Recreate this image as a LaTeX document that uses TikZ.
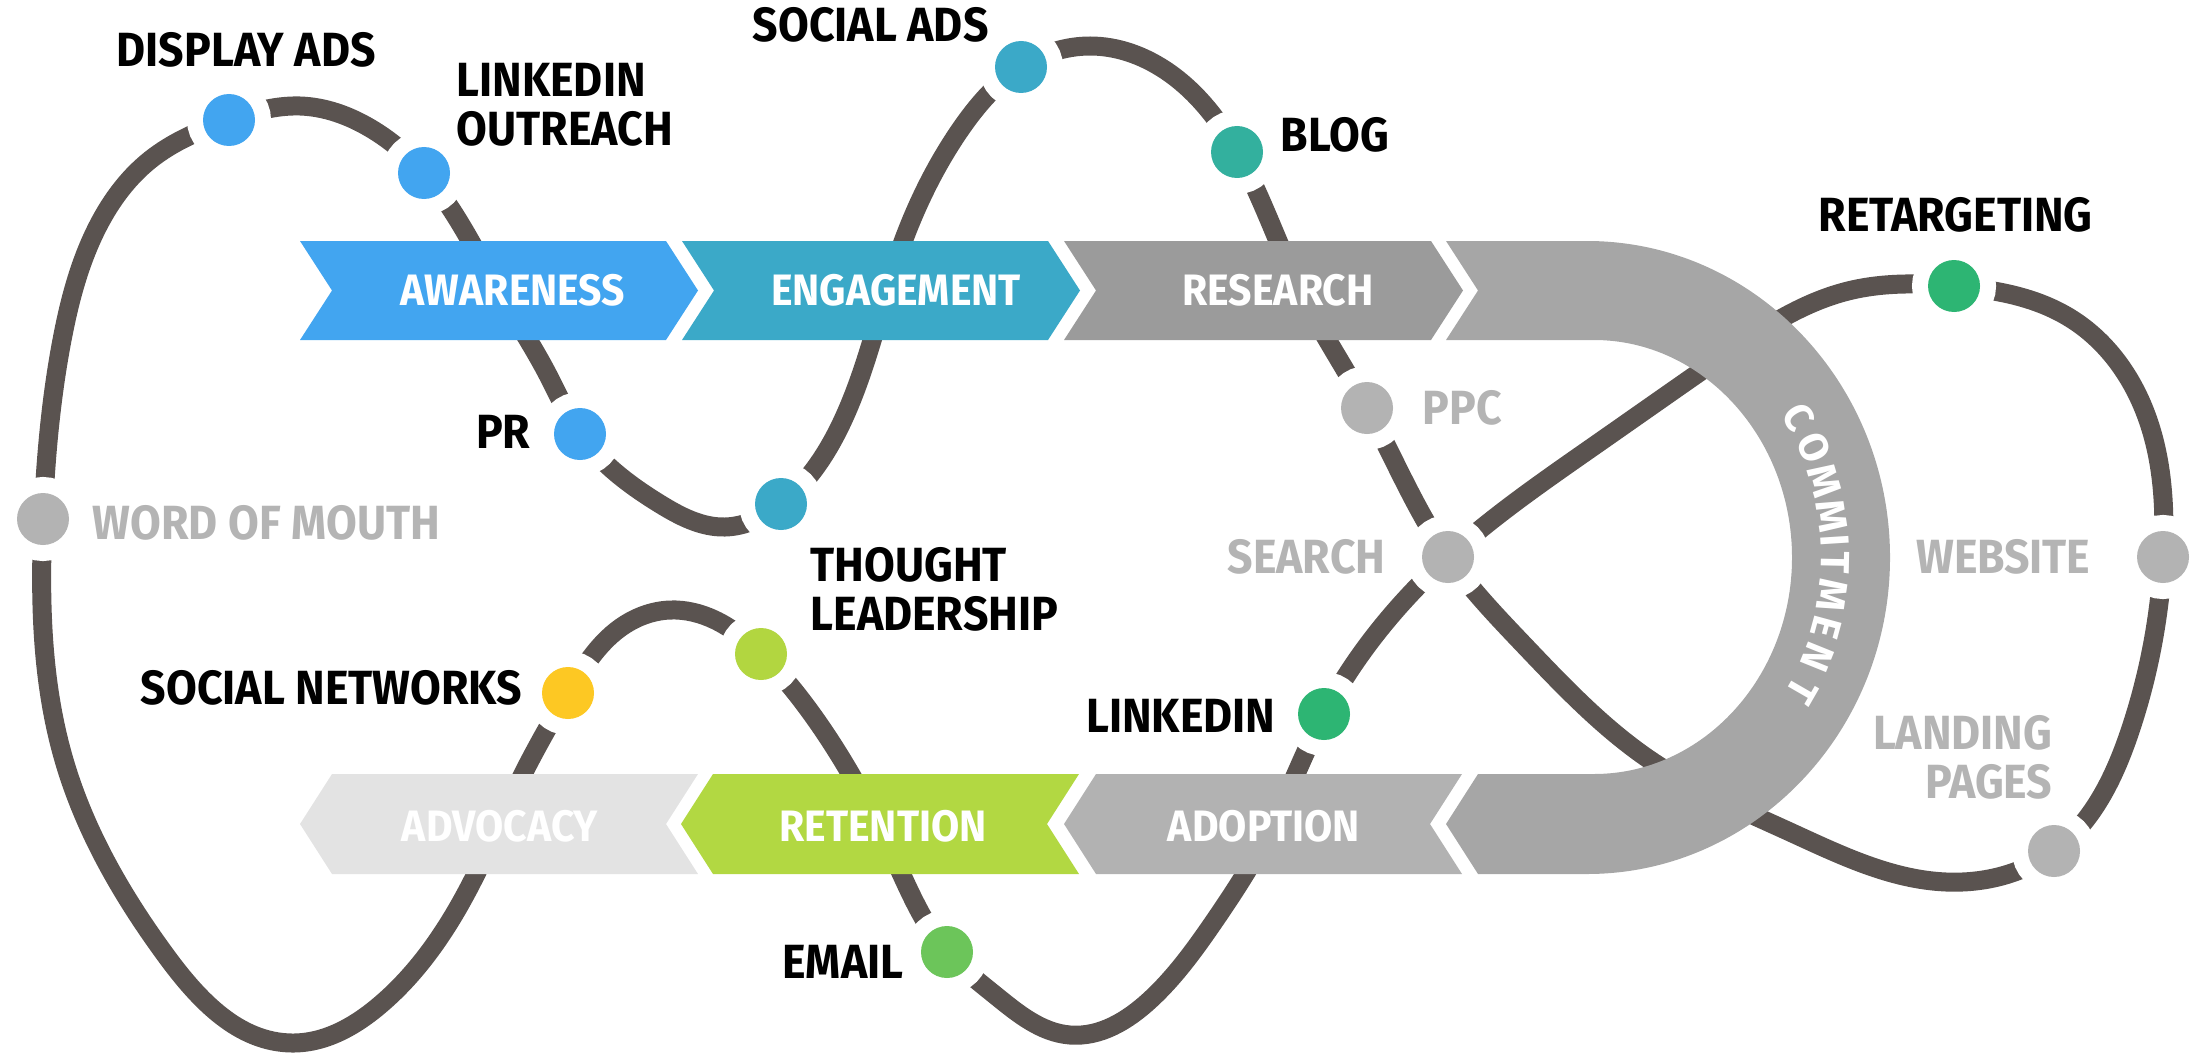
\documentclass[tikz,border=0pt]{standalone}
\usepackage{fontspec}
\setmainfont{Fira Sans}
\newfontfamily\labfont{Fira Sans}[FakeStretch=0.93]
\newfontfamily\comfont{Fira Sans}
\usetikzlibrary{hobby}
\definecolor{linec}{RGB}{90,83,80}
\definecolor{cblue}{RGB}{66,165,240}
\definecolor{cteal}{RGB}{59,169,200}
\definecolor{cresearch}{RGB}{155,155,155}
\definecolor{ccommit}{RGB}{166,166,166}
\definecolor{cadopt}{RGB}{178,178,178}
\definecolor{cretent}{RGB}{178,216,66}
\definecolor{cadvoc}{RGB}{227,227,227}
\definecolor{cblog}{RGB}{51,176,158}
\definecolor{cgreen}{RGB}{45,181,115}
\definecolor{cemail}{RGB}{108,197,90}
\definecolor{clime}{RGB}{178,214,64}
\definecolor{cyellow}{RGB}{253,200,35}
\definecolor{cgray}{RGB}{179,179,179}
\definecolor{ctextgray}{RGB}{180,180,180}
\begin{document}
\begin{tikzpicture}[x=0.3pt,y=-0.3pt,
  tdot/.style={circle, inner sep=0pt, minimum size=15.6pt, fill=#1,
    preaction={draw=white, fill=white, line width=9.6pt}},
  tlab/.style={inner sep=0pt, font=\labfont\bfseries\fontsize{14.4}{14.7}\selectfont, text=black},
  tglab/.style={tlab, text=ctextgray},
  tband/.style={inner sep=0pt, font=\labfont\bfseries\fontsize{13.2}{14}\selectfont, text=white},
  tcom/.style={inner sep=0pt, font=\comfont\bfseries\fontsize{12.2}{12}\selectfont, text=white},
  ribbon/.style={draw=linec, line width=5.7pt}]
\useasboundingbox (0,0) rectangle (2206,1055);

% positions of the touch points
\coordinate (pWOM) at (43,519);
\coordinate (pDA) at (229,120);
\coordinate (pLO) at (424,173);
\coordinate (pPR) at (580,434);
\coordinate (pENG) at (781,504);
\coordinate (pSA) at (1021,67);
\coordinate (pBL) at (1237,152);
\coordinate (pPPC) at (1367,408);
\coordinate (pSE) at (1448,557);
\coordinate (pLP) at (2054,851);
\coordinate (pWEB) at (2163,557);
\coordinate (pRT) at (1954,286);
\coordinate (pLI) at (1324,714);
\coordinate (pEM) at (947,952);
\coordinate (pTL) at (761,654);
\coordinate (pSN) at (568,693);

% the winding ribbon
\draw[ribbon] plot[closed hobby] coordinates {
  (pWOM) (62,340) (95,232) (150,160) (pDA) (300,106) (370,128) (pLO)
  (498,290) (548,375) (pPR) (660,504) (725,527) (pENG) (843,420) (900,250)
  (960,130) (pSA) (1090,46) (1165,70) (pBL) (1300,290) (pPPC) (pSE)
  (1523,644) (1650,760) (1790,832) (1946,882) (pLP) (2130,731)
  (pWEB) (2140,400) (2070,318) (pRT) (1848,291) (1720,358) (1594,446) (pSE)
  (pLI) (1270,830) (1213,923) (1150,1000) (1070,1035) (995,995) (pEM)
  (895,860) (814,717) (pTL) (715,620) (670,610) (620,628) (pSN) (520,780)
  (473,880) (380,1005) (292,1043) (167,957) (64,760)};

% touch point dots
\node[tdot=cgray] (WOM) at (pWOM) {};
\node[tdot=cblue] (DA) at (pDA) {};
\node[tdot=cblue] (LO) at (pLO) {};
\node[tdot=cblue] (PR) at (pPR) {};
\node[tdot=cteal] (ENG) at (pENG) {};
\node[tdot=cteal] (SA) at (pSA) {};
\node[tdot=cblog] (BL) at (pBL) {};
\node[tdot=cgray] (PPC) at (pPPC) {};
\node[tdot=cgray] (SE) at (pSE) {};
\node[tdot=cgray] (LP) at (pLP) {};
\node[tdot=cgray] (WEB) at (pWEB) {};
\node[tdot=cgreen] (RT) at (pRT) {};
\node[tdot=cgreen] (LI) at (pLI) {};
\node[tdot=cemail] (EM) at (pEM) {};
\node[tdot=clime] (TL) at (pTL) {};
\node[tdot=cyellow] (SN) at (pSN) {};

% stage bands, top row
\fill[cblue] (300,241) -- (666,241) -- (698,290.5) -- (666,340) -- (300,340) -- (332,290.5) -- cycle;
\fill[cteal] (682,241) -- (1048,241) -- (1080,290.5) -- (1048,340) -- (682,340) -- (714,290.5) -- cycle;
\fill[cresearch] (1064,241) -- (1431,241) -- (1463,290.5) -- (1431,340) -- (1064,340) -- (1096,290.5) -- cycle;
% commitment U-turn
\fill[ccommit] (1446,241) -- (1587,241) .. controls (1754,241) and (1890,383) .. (1890,557.5)
  .. controls (1890,732) and (1754,874) .. (1587,874) -- (1478,874) -- (1446,824) -- (1478,774)
  -- (1594,774) .. controls (1703,774) and (1792,677) .. (1792,557.5)
  .. controls (1792,438) and (1703,340) .. (1594,340) -- (1446,340) -- (1478,290.5) -- cycle;
% bottom row
\fill[cadopt] (1064,824) -- (1096,774) -- (1462,774) -- (1430,824) -- (1462,874) -- (1096,874) -- cycle;
\fill[cretent] (681,824) -- (713,774) -- (1079,774) -- (1047,824) -- (1079,874) -- (713,874) -- cycle;
\fill[cadvoc] (300,824) -- (332,774) -- (698,774) -- (666,824) -- (698,874) -- (332,874) -- cycle;

% COMMITMENT along the bend
\foreach \ch/\ang [count=\k] in {C/-31.5,O/-24,M/-16.5,M/-8.8,I/-3.6,T/1.2,M/8.2,E/15.2,N/22,T/30}
  \node[tcom, rotate={-\ang-90}] (com\k) at ({1590+245*cos(\ang)},{557+268*sin(\ang)}) {\ch};

% stage names
\node[tband] (tAW) at (513,290) {AWARENESS};
\node[tband] (tEN) at (896,290) {ENGAGEMENT};
\node[tband] (tRE) at (1278,290) {RESEARCH};
\node[tband] (tAD) at (500,826) {ADVOCACY};
\node[tband] (tRN) at (883,826) {RETENTION};
\node[tband] (tAP) at (1264,826) {ADOPTION};

% touch point labels
\node[tlab, anchor=west] (lDA) at (116,50) {DISPLAY ADS};
\node[tlab, anchor=west, align=left] (lLO) at (456,105) {LINKEDIN\\OUTREACH};
\node[tlab, anchor=west] (lSA) at (752,25) {SOCIAL ADS};
\node[tlab, anchor=east] (lPR) at (531,432) {PR};
\node[tlab, anchor=west] (lBL) at (1280,135) {BLOG};
\node[tlab, anchor=west] (lRT) at (1818,215) {RETARGETING};
\node[tglab, anchor=west] (lPPC) at (1422,408) {PPC};
\node[tglab, anchor=west] (lWOM) at (92,523) {WORD OF MOUTH};
\node[tglab, anchor=east] (lSE) at (1386,557) {SEARCH};
\node[tglab, anchor=east] (lWEB) at (2091,557) {WEBSITE};
\node[tlab, anchor=east] (lLI) at (1276,716) {LINKEDIN};
\node[tglab, anchor=east, align=right] (lLP) at (2053,757) {LANDING\\PAGES};
\node[tlab, anchor=west, align=left] (lTL) at (810,589) {THOUGHT\\LEADERSHIP};
\node[tlab, anchor=east] (lSN) at (523,688) {SOCIAL NETWORKS};
\node[tlab, anchor=east] (lEM) at (904,962) {EMAIL};
\end{tikzpicture}
\end{document}
